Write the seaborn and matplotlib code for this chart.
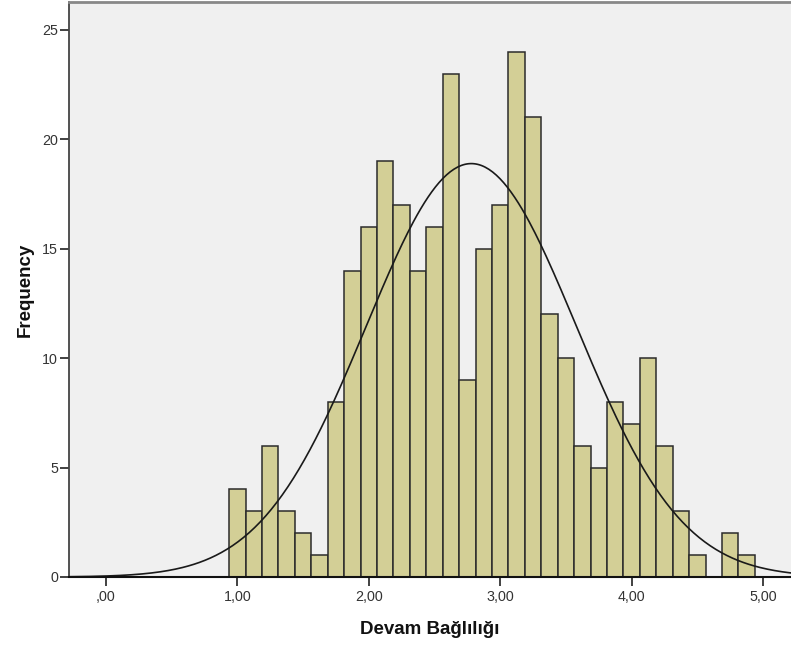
import numpy as np
import pandas as pd
import matplotlib
matplotlib.use("Agg")
import matplotlib.pyplot as plt
import seaborn as sns

# Histogram of "Devam Bağlılığı" scores, bins of width 0.125 centred on 1.000 ... 4.875
bin_centers = [1.000, 1.125, 1.250, 1.375, 1.500, 1.625, 1.750, 1.875,
               2.000, 2.125, 2.250, 2.375, 2.500, 2.625, 2.750, 2.875,
               3.000, 3.125, 3.250, 3.375, 3.500, 3.625, 3.750, 3.875,
               4.000, 4.125, 4.250, 4.375, 4.500, 4.625, 4.750, 4.875]
counts = [4, 3, 6, 3, 2, 1, 8, 14,
          16, 19, 17, 14, 16, 23, 9, 15,
          17, 24, 21, 12, 10, 6, 5, 8,
          7, 10, 6, 3, 1, 0, 2, 1]
bin_width = 0.125

# Normal curve parameters
mean_val = 2.78
sd_val = 0.80

x_ticks = [0, 1, 2, 3, 4, 5]
x_tick_labels = [",00", "1,00", "2,00", "3,00", "4,00", "5,00"]
y_ticks = [0, 5, 10, 15, 20, 25]

sns.set_style("white")
plt.rcParams["font.family"] = ["Liberation Sans", "DejaVu Sans"]

fig = plt.figure(figsize=(7.91, 6.45), dpi=100)
fig.patch.set_facecolor("white")
ax = fig.add_axes([69 / 791, 1 - 577 / 645, 1 - 69 / 791, (577 - 2) / 645])
ax.set_facecolor("#F0F0F0")

df = pd.DataFrame({"x": bin_centers, "n": counts})
lo = bin_centers[0] - bin_width / 2
hi = bin_centers[-1] + bin_width / 2
sns.histplot(data=df, x="x", weights="n", binwidth=bin_width, binrange=(lo, hi), ax=ax,
             color="#D3CF96", alpha=1.0, edgecolor="#2b2b2b", linewidth=1.1)

# Fitted normal curve scaled to the histogram
n_total = sum(counts)
xs = np.linspace(-0.3, 5.3, 400)
ys = n_total * bin_width * np.exp(-0.5 * ((xs - mean_val) / sd_val) ** 2) / (sd_val * np.sqrt(2 * np.pi))
sns.lineplot(x=xs, y=ys, ax=ax, color="#1a1a1a", linewidth=1.2)

ax.set_xlim(-0.2816, 5.213)
ax.set_ylim(0, 26.27)
ax.set_xticks(x_ticks)
ax.set_xticklabels(x_tick_labels)
ax.set_yticks(y_ticks)
ax.tick_params(axis="both", bottom=True, left=True, direction="out", length=6.5, width=1.3,
               color="#333333", labelsize=10.3, labelcolor="#333333")
ax.tick_params(axis="x", pad=3)
ax.tick_params(axis="y", pad=1.5)

ax.spines["right"].set_visible(False)
ax.spines["top"].set_color("#888888")
ax.spines["top"].set_linewidth(2)
ax.spines["left"].set_color("#444444")
ax.spines["left"].set_linewidth(1.3)
ax.spines["bottom"].set_color("#111111")
ax.spines["bottom"].set_linewidth(1.5)

ax.set_xlabel("Devam Bağlılığı", fontsize=13.5, fontweight="bold", color="#111111", labelpad=12)
ax.set_ylabel("Frequency", fontsize=13.5, fontweight="bold", color="#111111", labelpad=6)

fig.savefig("out.png", dpi=100)
